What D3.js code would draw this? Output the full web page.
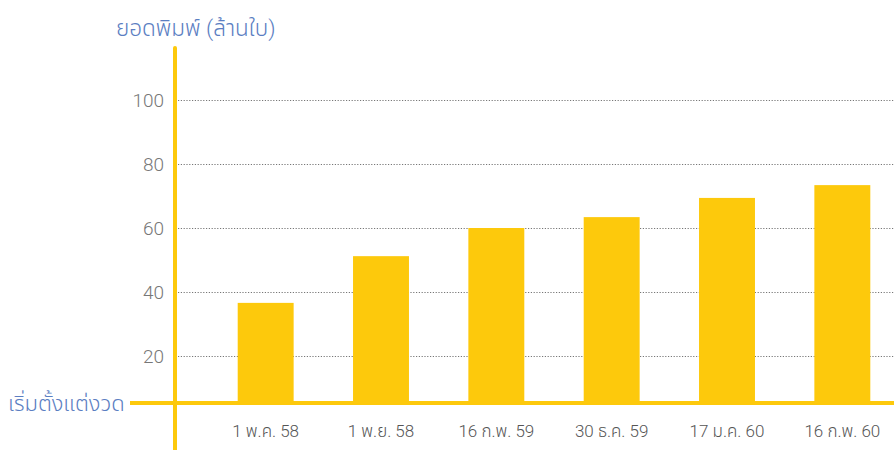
<!DOCTYPE html>
<html>
<head>
<meta charset="utf-8">
<script src="https://cdn.jsdelivr.net/npm/d3@7"></script>
<style>
  body { margin: 0; background: #fff; }
  text { font-family: Roboto, "Noto Sans Thai", "Noto Sans Thai UI", Loma, Garuda, Sarabun, "Noto Sans", sans-serif; font-weight: 300; }
</style>
</head>
<body>
<div id="chart-container"></div>
<script>
// lottery print volume per draw, millions of tickets
const categories = ["1 พ.ค. 58", "1 พ.ย. 58", "16 ก.พ. 59", "30 ธ.ค. 59", "17 ม.ค. 60", "16 ก.พ. 60"];
const values = [36.6, 51.2, 60, 63.4, 69.4, 73.4];
const yTicks = [20, 40, 60, 80, 100];
const yTitle = "ยอดพิมพ์ (ล้านใบ)";
const xTitle = "เริ่มตั้งแต่งวด";

const svgWidth = 894;
const svgHeight = 450;
const yellow = "#fdc90c";
const blue = "#5b7ec2";
const axisX = 175;   // vertical axis position
const baseY = 403;   // horizontal base line

const svg = d3.select("#chart-container")
    .append("svg")
    .attr("width", svgWidth)
    .attr("height", svgHeight);

const x = d3.scaleBand()
    .domain(categories)
    .range([208, 900])
    .paddingInner(0.515)
    .paddingOuter(0.2575);

const y = d3.scaleLinear()
    .domain([0, 100])
    .range([420, 100]);

// dotted gridlines
svg.append("g")
    .selectAll("line")
    .data(yTicks)
    .join("line")
    .attr("x1", axisX + 3)
    .attr("x2", svgWidth)
    .attr("y1", d => y(d) + 0.5)
    .attr("y2", d => y(d) + 0.5)
    .attr("stroke", "#777")
    .attr("stroke-width", 1)
    .attr("stroke-dasharray", "1.2,1.6");

// tick labels
svg.append("g")
    .selectAll("text")
    .data(yTicks)
    .join("text")
    .attr("x", 164)
    .attr("y", d => y(d))
    .attr("dy", "0.35em")
    .attr("text-anchor", "end")
    .attr("fill", "#777")
    .attr("font-size", 19)
    .text(d => d);

// bars
svg.append("g")
    .selectAll("rect")
    .data(values)
    .join("rect")
    .attr("x", (d, i) => x(categories[i]))
    .attr("y", d => y(d))
    .attr("width", x.bandwidth())
    .attr("height", d => baseY - y(d))
    .attr("fill", yellow);

// axis lines
svg.append("line")
    .attr("x1", 130).attr("x2", svgWidth)
    .attr("y1", baseY).attr("y2", baseY)
    .attr("stroke", yellow).attr("stroke-width", 4);

svg.append("line")
    .attr("x1", axisX).attr("x2", axisX)
    .attr("y1", 48).attr("y2", svgHeight)
    .attr("stroke", yellow).attr("stroke-width", 4)
    .attr("stroke-linecap", "round");

// category labels
svg.append("g")
    .selectAll("text")
    .data(categories)
    .join("text")
    .attr("x", d => x(d) + x.bandwidth() / 2)
    .attr("y", 437)
    .attr("text-anchor", "middle")
    .attr("fill", "#555")
    .attr("font-size", 17)
    .text(d => d);

svg.append("text")
    .text(yTitle)
    .attr("x", 116)
    .attr("y", 36)
    .attr("fill", blue)
    .attr("font-size", 22.5);

svg.append("text")
    .text(xTitle)
    .attr("x", 8)
    .attr("y", baseY)
    .attr("dy", "0.35em")
    .attr("fill", blue)
    .attr("font-size", 22);
</script>
</body>
</html>
